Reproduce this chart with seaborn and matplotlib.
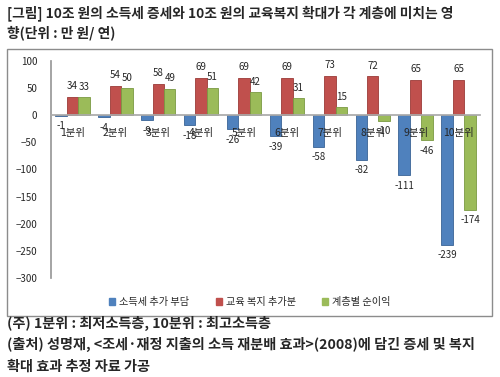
import pandas as pd
import seaborn as sns
import matplotlib.pyplot as plt
from matplotlib.patches import Rectangle, Patch

categories = ['1분위', '2분위', '3분위', '4분위', '5분위',
              '6분위', '7분위', '8분위', '9분위', '10분위']
tax_burden = [-1, -4, -9, -18, -26, -39, -58, -82, -111, -239]
welfare_gain = [34, 54, 58, 69, 69, 69, 73, 72, 65, 65]
net_gain = [33, 50, 49, 51, 42, 31, 15, -10, -46, -174]
series_names = ['소득세 추가 부담', '교육 복지 추가분', '계층별 순이익']
colors = ['#4F81BD', '#C0504D', '#9BBB59']
edges = ['#3A6496', '#9B3B38', '#7A9A42']

df = pd.DataFrame({
    'cat': categories * 3,
    'val': tax_burden + welfare_gain + net_gain,
    'series': [series_names[0]] * 10 + [series_names[1]] * 10 + [series_names[2]] * 10,
})

sns.set_theme(style='white')
plt.rcParams['font.family'] = ['Noto Sans CJK KR', 'DejaVu Sans']

fig = plt.figure(figsize=(5, 3.77), dpi=100)
fig.patch.set_facecolor('white')

# chart frame
fig.patches.append(Rectangle((0.014, 0.1618), 0.970, 0.708, transform=fig.transFigure,
                             fill=False, edgecolor='#8c8c8c', linewidth=1.0, zorder=0))

ax = fig.add_axes([0.102, 0.2626, 0.858, 0.5756])
sns.barplot(data=df, x='cat', y='val', hue='series', palette=colors,
            width=0.8, legend=False, ax=ax, saturation=1)

for cont, ec in zip(ax.containers, edges):
    for bar in cont:
        bar.set_edgecolor(ec)
        bar.set_linewidth(0.6)
    ax.bar_label(cont, fmt='%d', padding=4, fontsize=7)

ax.set_ylim(-300, 100)
ax.set_xlim(-0.5, 9.5)
ax.set_yticks(range(-300, 101, 50))
ax.set_xlabel('')
ax.set_ylabel('')
ax.set_facecolor('none')
ax.set_axisbelow(False)  # category labels sit on top of the bars
for s in ['top', 'right']:
    ax.spines[s].set_visible(False)
ax.spines['left'].set_color('#999999')
ax.spines['bottom'].set_position(('data', 0))
ax.spines['bottom'].set_color('#aaaaaa')
ax.tick_params(axis='y', length=0, pad=10, labelsize=7)
ax.tick_params(axis='x', length=0, pad=9, labelsize=7.5)

handles = [Patch(facecolor=c, edgecolor=c) for c in colors]
fig.legend(handles, series_names, loc='center', bbox_to_anchor=(0.5, 0.199), ncol=3,
           frameon=False, fontsize=7.3, handlelength=0.6, handleheight=0.6,
           handletextpad=0.4, columnspacing=2.6)

fig.text(0.014, 0.965, '[그림] 10조 원의 소득세 증세와 10조 원의 교육복지 확대가 각 계층에 미치는 영',
         fontsize=9.9, fontweight='bold', va='center', ha='left')
fig.text(0.014, 0.912, '향(단위 : 만 원/ 연)',
         fontsize=9.9, fontweight='bold', va='center', ha='left')

fig.text(0.014, 0.141, '(주) 1분위 : 최저소득층, 10분위 : 최고소득층',
         fontsize=10.2, fontweight='bold', va='center', ha='left')
fig.text(0.014, 0.085, '(출처) 성명재, <조세·재정 지출의 소득 재분배 효과>(2008)에 담긴 증세 및 복지',
         fontsize=10.2, fontweight='bold', va='center', ha='left')
fig.text(0.014, 0.027, '확대 효과 추정 자료 가공',
         fontsize=10.2, fontweight='bold', va='center', ha='left')

fig.savefig('out.png', dpi=100)
